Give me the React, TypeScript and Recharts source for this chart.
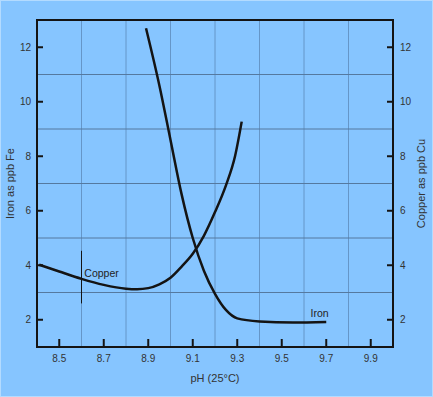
import React from "react";
import {
  CartesianGrid,
  Line,
  LineChart,
  ReferenceArea,
  ReferenceDot,
  XAxis,
  YAxis,
} from "recharts";

// iron curve (left axis, ppb Fe)
const IRON_PH = [8.89, 8.95, 9.0, 9.05, 9.1, 9.15, 9.2, 9.25, 9.3, 9.4, 9.55, 9.7];
const IRON_VAL = [12.7, 10.6, 8.6, 6.6, 5.0, 3.8, 2.95, 2.35, 2.05, 1.94, 1.9, 1.92];

// copper curve (right axis, ppb Cu)
const COPPER_PH = [8.41, 8.5, 8.6, 8.7, 8.8, 8.85, 8.9, 8.95, 9.0, 9.05, 9.1, 9.15, 9.2, 9.25, 9.29, 9.32];
const COPPER_VAL = [4.02, 3.77, 3.5, 3.28, 3.14, 3.12, 3.16, 3.3, 3.54, 3.95, 4.42, 5.08, 5.95, 6.95, 8.0, 9.27];

// short vertical marker on the copper curve
const MARKER_PH = [8.6, 8.6];
const MARKER_VAL = [4.53, 2.6];

const X_TICKS = [8.5, 8.7, 8.9, 9.1, 9.3, 9.5, 9.7, 9.9];
const Y_TICKS = [2, 4, 6, 8, 10, 12];
const X_GRID = [8.6, 8.8, 9.0, 9.2, 9.4, 9.6, 9.8];
const Y_GRID = [3, 5, 7, 9, 11];

const BG = "#86C5FF";
const INK = "#141414";
const FONT = "'Liberation Sans', Arial, sans-serif";

const ironData = IRON_PH.map((ph, i) => ({ ph, v: IRON_VAL[i] }));
const copperData = COPPER_PH.map((ph, i) => ({ ph, v: COPPER_VAL[i] }));
const markerData = MARKER_PH.map((ph, i) => ({ ph, v: MARKER_VAL[i] }));

const tickStyle = { fontSize: 10, fill: "#333", fontFamily: FONT };
const titleStyle = { fontSize: 11, fill: "#333", fontFamily: FONT };

export default function App() {
  return (
    <div
      style={{
        position: "fixed",
        left: 0,
        top: 0,
        width: 433,
        height: 397,
        background: BG,
        boxShadow: "inset 0 0 0 1px #b3dbff",
      }}
    >
      <LineChart
        width={433}
        height={397}
        margin={{ top: 20, right: 0, left: 0, bottom: 0 }}
      >
        <CartesianGrid
          yAxisId="left"
          horizontal={false}
          verticalValues={X_GRID}
          stroke="#6596c8"
          strokeWidth={1}
        />
        <CartesianGrid
          yAxisId="left"
          vertical={false}
          horizontalValues={Y_GRID}
          stroke="#55799f"
          strokeWidth={1}
        />
        <XAxis
          type="number"
          dataKey="ph"
          domain={[8.4, 10]}
          ticks={X_TICKS}
          interval={0}
          height={50}
          allowDataOverflow
          axisLine={false}
          tickLine={{ stroke: INK, strokeWidth: 2 }}
          tickSize={-8}
          tickMargin={16}
          tick={tickStyle}
          label={{ value: "pH (25°C)", position: "center", dy: 6, style: titleStyle }}
        />
        <YAxis
          yAxisId="left"
          type="number"
          domain={[1, 13]}
          ticks={Y_TICKS}
          interval={0}
          width={37}
          allowDataOverflow
          axisLine={false}
          tickLine={{ stroke: INK, strokeWidth: 2 }}
          tickSize={-6}
          tickMargin={12}
          tick={tickStyle}
          label={{ value: "Iron as ppb Fe", angle: -90, position: "center", dx: -8, style: titleStyle }}
        />
        <YAxis
          yAxisId="right"
          orientation="right"
          type="number"
          domain={[1, 13]}
          ticks={Y_TICKS}
          interval={0}
          width={40}
          allowDataOverflow
          axisLine={false}
          tickLine={{ stroke: INK, strokeWidth: 2 }}
          tickSize={-6}
          tickMargin={13}
          tick={tickStyle}
          label={{ value: "Copper as ppb Cu", angle: -90, position: "center", dx: 8, style: titleStyle }}
        />

        <ReferenceArea
          yAxisId="left"
          x1={8.4}
          x2={10}
          y1={1}
          y2={13}
          fill="none"
          stroke={INK}
          strokeWidth={2}
          fillOpacity={0}
        />

        <Line
          yAxisId="left"
          data={ironData}
          dataKey="v"
          type="monotone"
          stroke={INK}
          strokeWidth={2.5}
          dot={false}
          isAnimationActive={false}
        />
        <Line
          yAxisId="right"
          data={copperData}
          dataKey="v"
          type="monotone"
          stroke={INK}
          strokeWidth={2.5}
          dot={false}
          isAnimationActive={false}
        />
        <Line
          yAxisId="right"
          data={markerData}
          dataKey="v"
          type="linear"
          stroke={INK}
          strokeWidth={1}
          dot={false}
          isAnimationActive={false}
        />

        <ReferenceDot
          yAxisId="right"
          x={8.69}
          y={3.71}
          r={0}
          fill="none"
          stroke="none"
          label={{ value: "Copper", position: "center", style: { fontSize: 10.5, fill: "#222", fontFamily: FONT } }}
        />
        <ReferenceDot
          yAxisId="left"
          x={9.67}
          y={2.24}
          r={0}
          fill="none"
          stroke="none"
          label={{ value: "Iron", position: "center", style: { fontSize: 10.5, fill: "#222", fontFamily: FONT } }}
        />
      </LineChart>
    </div>
  );
}
